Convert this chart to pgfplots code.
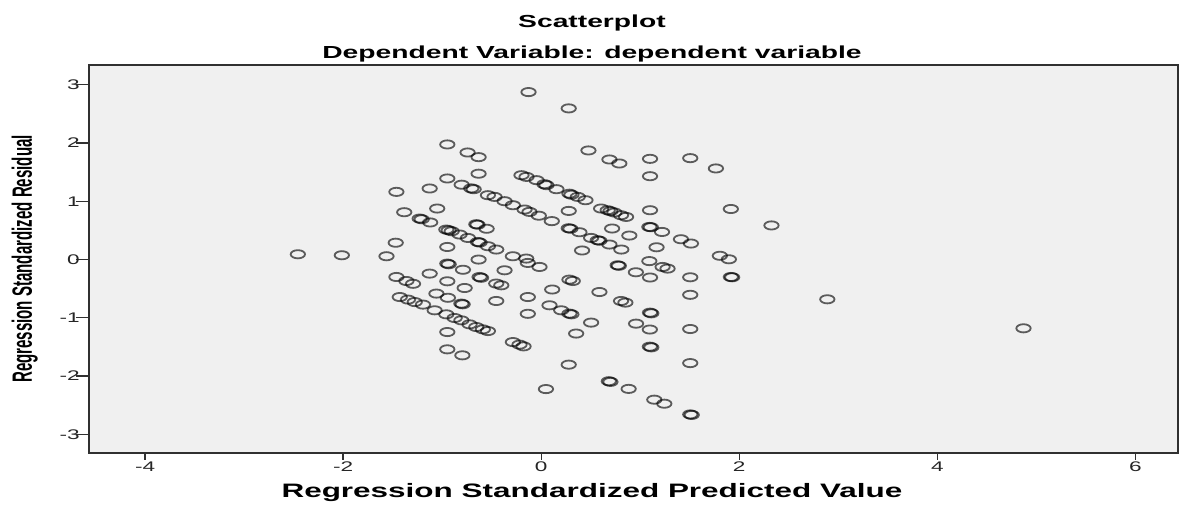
\documentclass[border=0pt]{standalone}
\usepackage{fontspec}
\setmainfont{Liberation Sans}[FakeStretch=1.62]
\newfontfamily\ylabfont{Liberation Sans}[FakeStretch=0.54]
\usepackage{pgfplots}
\pgfplotsset{compat=1.18}
\usetikzlibrary{calc}
\definecolor{bgc}{HTML}{F0F0F0}
\definecolor{framec}{HTML}{303030}
\pgfplotstableread{
x y
-2.457 0.091
-2.013 0.074
-1.562 0.057
-0.128 2.875
0.278 2.595
-0.948 1.976
-0.743 1.838
-0.632 1.758
-0.632 1.474
-0.948 1.392
-1.126 1.220
-1.462 1.162
-0.803 1.285
-0.706 1.222
-0.682 1.208
-0.538 1.105
-0.471 1.076
-0.370 1.002
-0.286 0.933
-0.168 0.859
-0.118 0.818
-0.024 0.753
0.107 0.660
-0.199 1.448
-0.148 1.419
-0.047 1.363
0.033 1.294
0.053 1.277
0.154 1.208
0.285 1.131
0.305 1.113
0.369 1.076
0.447 1.019
-1.383 0.813
-1.050 0.876
-1.227 0.704
-1.207 0.692
-1.121 0.637
-0.655 0.607
-0.642 0.598
-0.551 0.529
-0.958 0.515
-0.934 0.503
-0.904 0.486
-0.824 0.430
-0.740 0.371
-0.639 0.302
-0.622 0.292
-0.538 0.229
-0.454 0.172
-0.286 0.057
-0.151 0.017
-0.135 -0.058
-0.017 -0.127
-1.469 0.289
-0.948 0.216
-0.632 0.000
-0.948 -0.069
-0.934 -0.081
-0.790 -0.175
-1.126 -0.241
-0.370 -0.184
-0.948 -0.373
-0.622 -0.299
-0.607 -0.313
-0.773 -0.488
-0.454 -0.412
-0.403 -0.442
-1.462 -0.299
-1.361 -0.368
-1.294 -0.416
-1.058 -0.584
-0.942 -0.656
-0.806 -0.756
-0.793 -0.768
-0.454 -0.711
-0.135 -0.643
0.084 -0.785
-0.135 -0.931
-1.428 -0.643
-1.345 -0.687
-1.277 -0.729
-1.194 -0.773
-1.076 -0.871
-0.958 -0.940
-0.874 -1.003
-0.806 -1.043
-0.723 -1.112
-0.655 -1.158
-0.589 -1.198
-0.538 -1.227
-0.948 -1.244
-0.948 -1.541
-0.796 -1.644
-0.286 -1.416
-0.219 -1.460
-0.178 -1.490
0.048 -2.223
0.477 1.873
0.689 1.718
0.789 1.649
1.099 1.729
1.505 1.741
1.764 1.564
1.099 1.431
0.278 0.835
0.605 0.876
0.671 0.847
0.699 0.830
0.739 0.808
0.806 0.761
0.857 0.732
1.099 0.847
1.915 0.868
2.325 0.586
0.278 0.538
0.295 0.529
0.386 0.469
0.504 0.371
0.571 0.332
0.588 0.323
0.689 0.258
0.809 0.172
0.716 0.533
0.890 0.412
1.092 0.560
1.107 0.555
1.220 0.474
1.165 0.211
1.411 0.349
1.512 0.275
0.413 0.156
1.804 0.065
1.895 0.005
0.772 -0.098
0.784 -0.107
1.092 -0.026
1.226 -0.127
1.276 -0.155
0.956 -0.218
1.099 -0.308
1.505 -0.304
1.915 -0.299
1.928 -0.304
0.285 -0.344
0.319 -0.368
0.111 -0.514
0.588 -0.557
1.505 -0.605
0.806 -0.711
0.850 -0.739
2.889 -0.682
0.202 -0.871
0.285 -0.928
0.305 -0.940
1.099 -0.911
1.112 -0.923
0.504 -1.082
0.958 -1.100
1.097 -1.201
1.505 -1.192
0.353 -1.270
1.097 -1.495
1.112 -1.507
0.278 -1.804
1.505 -1.777
0.683 -2.088
0.699 -2.100
0.883 -2.220
1.142 -2.405
1.243 -2.474
1.505 -2.658
1.520 -2.667
4.870 -1.180
}\resid
\begin{document}
\begin{tikzpicture}
\begin{axis}[
  width=1089bp, height=388bp, scale only axis,
  xmin=-4.566, xmax=6.43, ymin=-3.32, ymax=3.34,
  axis background/.style={fill=bgc},
  axis line style={draw=framec, line width=1.3bp},
  xtick={-4,-2,0,2,4,6}, ytick={-3,-2,-1,0,1,2,3},
  tick pos=left, tick align=outside,
  major tick length=7bp,
  tick style={draw=framec, line width=1.3bp},
  ytick style={/pgfplots/major tick length=13bp},
  xticklabel style={font=\fontsize{14}{16}\selectfont, text=black!85, inner sep=1.5bp},
  yticklabel style={font=\fontsize{14}{16}\selectfont, text=black!85, inner sep=2bp},
  /pgf/number format/assume math mode=true,
  clip=false,
]
\addplot[only marks, mark=o, mark size=4.1bp,
  mark options={xscale=1.75, line width=1.8bp, draw=black, draw opacity=0.62}]
  table[x=x, y=y] {\resid};
\end{axis}
\path ($(current axis.south west)+(-89bp,-51bp)$) rectangle ($(current axis.north east)+(11bp,65bp)$);
\node[anchor=base, font=\bfseries\fontsize{17.5}{20}\selectfont] at ($(current axis.north west)+(503bp,37bp)$) {Scatterplot};
\node[anchor=base, font=\bfseries\fontsize{17.5}{20}\selectfont] at ($(current axis.north west)+(503bp,6bp)$) {Dependent Variable: dependent variable};
\node[anchor=base, font=\bfseries\fontsize{19.5}{22}\selectfont] at ($(current axis.south west)+(503bp,-45bp)$) {Regression Standardized Predicted Value};
\node[anchor=base, rotate=90, font=\ylabfont\bfseries\fontsize{28}{30}\selectfont] at ($(current axis.west)+(-57bp,0bp)$) {Regression Standardized Residual};
\end{tikzpicture}
\end{document}
